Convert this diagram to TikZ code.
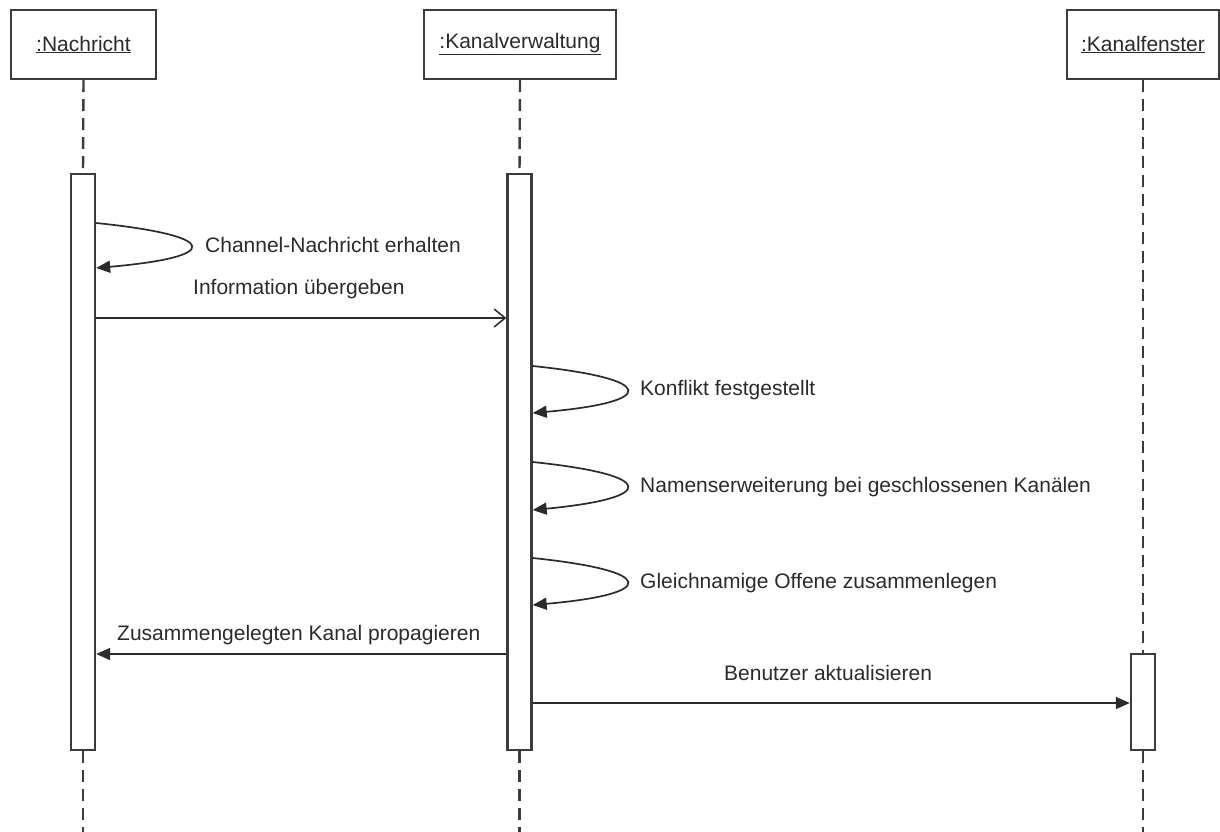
\documentclass[tikz,border=0pt]{standalone}
\usepackage{fontspec}
\setmainfont{Liberation Sans}
\usetikzlibrary{arrows.meta}
\definecolor{ink}{HTML}{2B2B2B}
\definecolor{frame}{HTML}{3C3C3C}
\begin{document}
\begin{tikzpicture}[x=1pt,y=-1pt,
  every node/.style={font=\fontsize{21}{25}\selectfont, text=ink},
  objbox/.style={draw=frame, line width=2.4pt, fill=white, minimum height=69pt, inner sep=0pt},
  actbar/.style={draw=frame, line width=2.4pt, fill=white, minimum width=24pt, inner sep=0pt},
  lifeline/.style={draw=frame, line width=2.4pt, dash pattern=on 12pt off 7pt},
  msg/.style={draw=ink, line width=1.7pt},
  sync/.style={msg, -{Triangle[length=14pt,width=12pt]}},
  async/.style={msg, -{Straight Barb[length=11pt,width=18pt,line width=1.5pt]}},
  lbl/.style={anchor=west, inner sep=0pt}
]
\useasboundingbox (0,0) rectangle (1220,832);

% object heads
\node[objbox, minimum width=145pt] (nach) at (83.5,44.5) {\underline{:Nachricht}};
\node[objbox, minimum width=192pt] (verw) at (520,44.5) {\underline{:Kanalverwaltung}};
\node[objbox, minimum width=152pt] (fens) at (1143,44.5) {\underline{:Kanalfenster}};

% activation bars
\node[actbar, minimum height=576pt] (barN) at (83,462) {};
\node[actbar, minimum height=576pt] (barV) at (519.5,462) {};
\node[actbar, minimum height=96pt] (barF) at (1143,702) {};

% lifelines
\coordinate (endN) at (83,832);
\coordinate (endV) at (519.5,832);
\coordinate (endF) at (1143,832);
\draw[lifeline] (nach.south) -- (barN.north);
\draw[lifeline] (barN.south) -- (endN);
\draw[lifeline] (verw.south) -- (barV.north);
\draw[lifeline] (barV.south) -- (endV);
\draw[lifeline] (fens.south) -- (barF.north);
\draw[lifeline] (barF.south) -- (endF);

% self calls on :Nachricht
\draw[sync] (barN.east |- 0,223) .. controls (222,236) and (222,257) .. (barN.east |- 0,268);
\node[lbl] (m1) at (205,245) {Channel-Nachricht erhalten};

% Nachricht -> Kanalverwaltung
\node[lbl] (m2) at (193,289) {Information übergeben};
\draw[async] (barN.east |- 0,318) -- (barV.west |- 0,318);

% self calls on :Kanalverwaltung
\draw[sync] (barV.east |- 0,366) .. controls (658,379) and (658,402) .. (barV.east |- 0,413);
\node[lbl] (m3) at (640,390) {Konflikt festgestellt};
\draw[sync] (barV.east |- 0,462) .. controls (658,475) and (658,498) .. (barV.east |- 0,510);
\node[lbl] (m4) at (640,487) {Namenserweiterung bei geschlossenen Kanälen};
\draw[sync] (barV.east |- 0,558) .. controls (658,571) and (658,594) .. (barV.east |- 0,605);
\node[lbl] (m5) at (640,583) {Gleichnamige Offene zusammenlegen};

% Kanalverwaltung -> Nachricht
\node[lbl] (m6) at (117,635) {Zusammengelegten Kanal propagieren};
\draw[sync] (barV.west |- 0,654) -- (barN.east |- 0,654);

% Kanalverwaltung -> Kanalfenster
\node[lbl] (m7) at (724,673) {Benutzer aktualisieren};
\draw[sync] (barV.east |- 0,703) -- (barF.west |- 0,703);
\end{tikzpicture}
\end{document}
